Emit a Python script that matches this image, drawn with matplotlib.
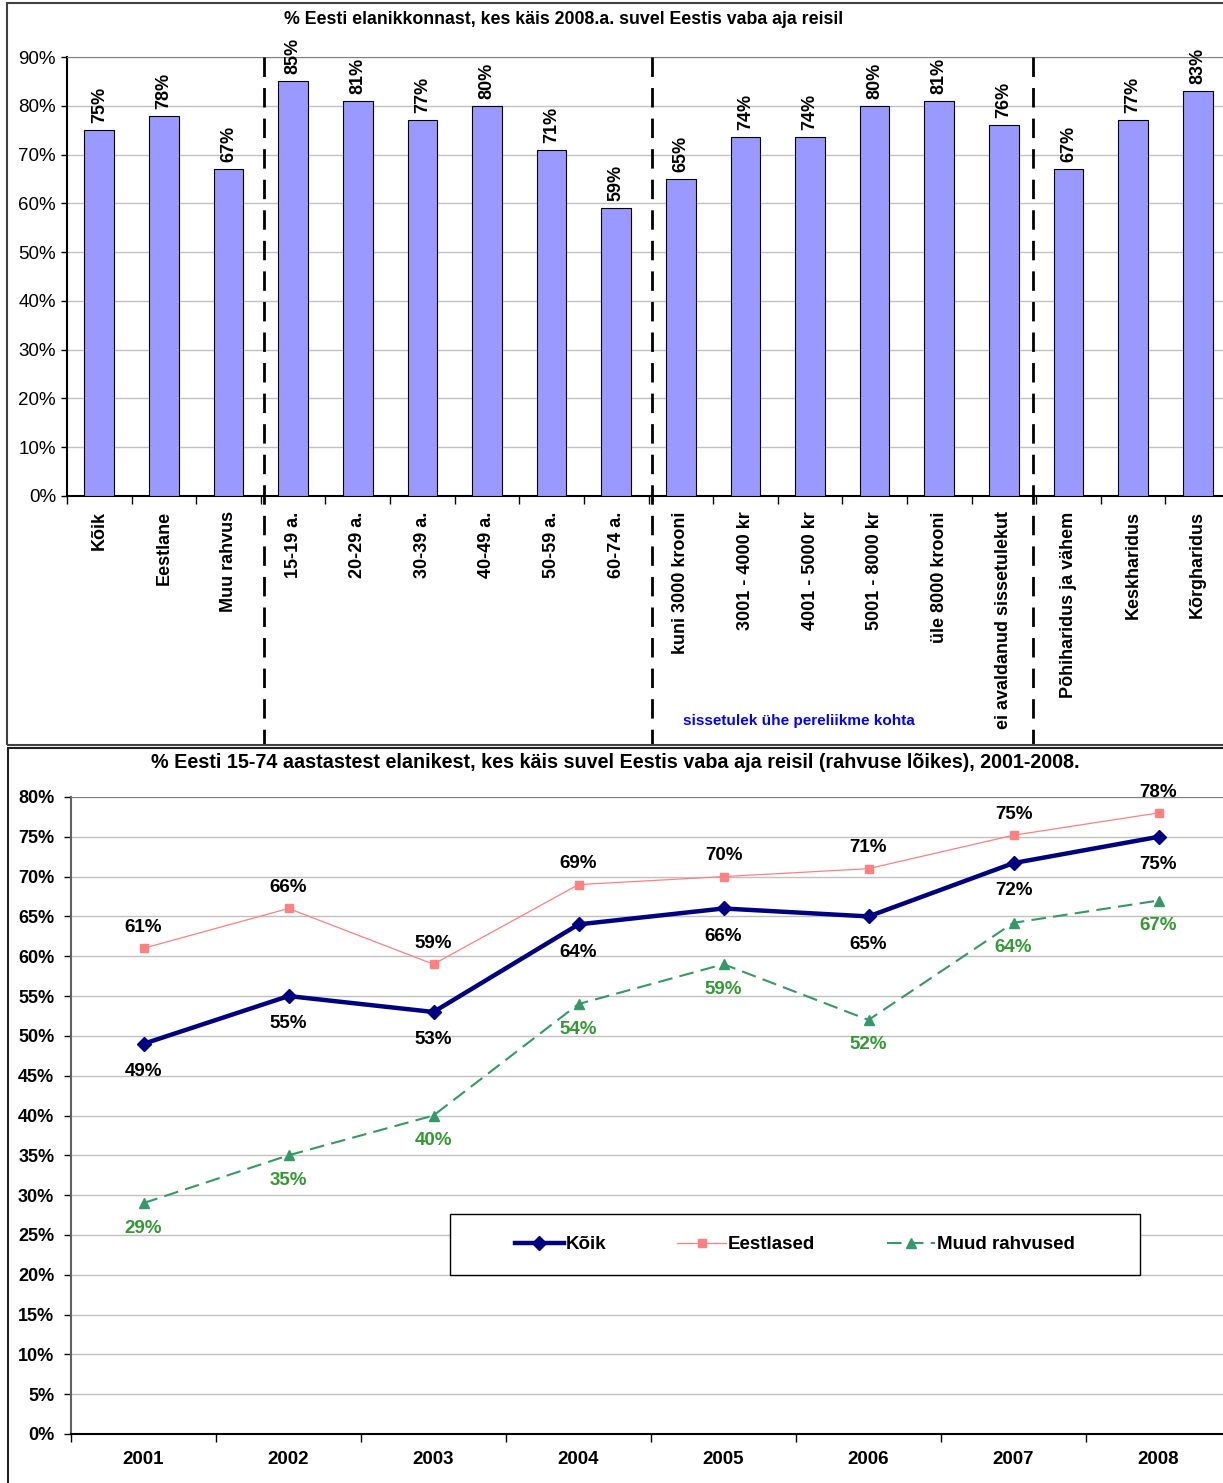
import matplotlib
matplotlib.use('Agg')
import matplotlib.pyplot as plt
import matplotlib.transforms as mtransforms
from matplotlib.patches import Rectangle
import numpy as np

plt.rcParams['font.family'] = ['Liberation Sans', 'DejaVu Sans']

# top chart data
cats = ['Kõik', 'Eestlane', 'Muu rahvus',
        '15-19 a.', '20-29 a.', '30-39 a.', '40-49 a.', '50-59 a.', '60-74 a.',
        'kuni 3000 krooni', '3001 - 4000 kr', '4001 - 5000 kr', '5001 - 8000 kr',
        'üle 8000 krooni', 'ei avaldanud sissetulekut',
        'Põhiharidus ja vähem', 'Keskharidus', 'Kõrgharidus']
vals = [75, 78, 67, 85, 81, 77, 80, 71, 59, 65, 73.6, 73.6, 80, 81, 76, 67, 77, 83]
separators = [2.55, 8.55, 14.45]
top_title = '% Eesti elanikkonnast, kes käis 2008.a. suvel Eestis vaba aja reisil'
income_note = 'sissetulek ühe pereliikme kohta'

# bottom chart data
years = ['2001', '2002', '2003', '2004', '2005', '2006', '2007', '2008']
koik = [49, 55, 53, 64, 66, 65, 71.7, 75]
eestlased = [61, 66, 59, 69, 70, 71, 75.2, 78]
muud = [29, 35, 40, 54, 59, 52, 64.2, 67]
bottom_title = ('% Eesti 15-74 aastastest elanikest, kes käis suvel Eestis vaba aja reisil '
                '(rahvuse lõikes), 2001-2008.')

W, H = 1223, 1483
fig = plt.figure(figsize=(W / 100, H / 100), dpi=100)

def fx(px):
    return px / W

def fy(py):
    return 1 - py / H

# panel frames
fig.patches.append(Rectangle((fx(7), fy(745)), fx(1230 - 7), fy(3) - fy(745),
                             transform=fig.transFigure, fill=False,
                             edgecolor='#404040', lw=1.5, zorder=0))
fig.patches.append(Rectangle((fx(8), fy(1490)), fx(1230 - 8), fy(748) - fy(1490),
                             transform=fig.transFigure, fill=False,
                             edgecolor='#202020', lw=1.5, zorder=0))

# ---------------- top chart ----------------
ax1 = fig.add_axes([fx(67), fy(496), fx(1230 - 67), fy(57) - fy(496)])
x = np.arange(len(cats))
ax1.bar(x, [v / 100 for v in vals], width=0.46, color='#9999FF',
        edgecolor='#000000', lw=0.8, zorder=3)
for xi, v in zip(x, vals):
    ax1.annotate('%d%%' % round(v), (xi, v / 100), xytext=(0, 5),
                 textcoords='offset points', rotation=90, ha='center',
                 va='bottom', fontsize=13, fontweight='bold', zorder=4)
ax1.set_xlim(-0.5, len(cats) - 0.5)
ax1.set_ylim(0, 0.9)
ax1.set_yticks(np.arange(0, 0.91, 0.1))
ax1.set_yticklabels(['%d%%' % t for t in range(0, 91, 10)], fontsize=13.5)
ax1.set_xticks(x)
ax1.set_xticklabels(cats, rotation=90, fontsize=13, fontweight='bold')
ax1.set_xticks(np.arange(-0.5, len(cats)), minor=True)
ax1.tick_params(axis='x', which='major', length=0, pad=11)
ax1.tick_params(axis='x', which='minor', length=6, width=1, direction='out')
ax1.tick_params(axis='y', length=4, width=1, pad=4)
ax1.grid(axis='y', color='#C0C0C0', lw=1, zorder=0)
ax1.set_axisbelow(True)
for s in ['top', 'right']:
    ax1.spines[s].set_color('#808080')
ax1.spines['left'].set_linewidth(1.5)
ax1.spines['bottom'].set_linewidth(1.5)

# dashed group separators
trans = mtransforms.blended_transform_factory(ax1.transData, ax1.transAxes)
ylow = (496 - 745) / (496 - 57)
for b in separators:
    ax1.plot([b, b], [1, ylow], transform=trans,
             color='black', lw=2, dashes=(7, 4), clip_on=False, zorder=5)

fig.text(fx(564), fy(20), top_title, ha='center', va='center',
         fontsize=12.8, fontweight='bold')
fig.text(fx(799), fy(721), income_note, ha='center', va='center',
         fontsize=11, fontweight='bold', color='#0000FF')

# ---------------- bottom chart ----------------
ax2 = fig.add_axes([fx(71), fy(1434), fx(1231 - 71), fy(797) - fy(1434)])
xi2 = np.arange(len(years))
l1, = ax2.plot(xi2, [v / 100 for v in koik], color='#000080', lw=3.2,
               marker='D', ms=7, zorder=5, label='Kõik')
l2, = ax2.plot(xi2, [v / 100 for v in eestlased], color='#FF8080', lw=0.9,
               marker='s', ms=6, zorder=4, label='Eestlased')
l3, = ax2.plot(xi2, [v / 100 for v in muud], color='#339966', lw=1.5,
               dashes=(7, 3.5), marker='^', ms=7, zorder=4, label='Muud rahvused')

for i in range(len(years)):
    ax2.annotate('%d%%' % round(eestlased[i]), (i, eestlased[i] / 100),
                 xytext=(0, 15), textcoords='offset points', ha='center',
                 va='center', fontsize=13.5, fontweight='bold')
    ax2.annotate('%d%%' % round(koik[i]), (i, koik[i] / 100),
                 xytext=(0, -20), textcoords='offset points', ha='center',
                 va='center', fontsize=13.5, fontweight='bold')
    ax2.annotate('%d%%' % round(muud[i]), (i, muud[i] / 100),
                 xytext=(0, -18), textcoords='offset points', ha='center',
                 va='center', fontsize=13.5, fontweight='bold', color='#339933')

ax2.set_xlim(-0.5, len(years) - 0.5)
ax2.set_ylim(0, 0.8)
ax2.set_yticks(np.arange(0, 0.801, 0.05))
ax2.set_yticklabels(['%d%%' % t for t in range(0, 81, 5)], fontsize=13,
                    fontweight='bold')
ax2.set_xticks(xi2)
ax2.set_xticklabels(years, fontsize=13.5, fontweight='bold')
ax2.set_xticks(np.arange(-0.5, len(years)), minor=True)
ax2.tick_params(axis='x', which='major', length=0, pad=12)
ax2.tick_params(axis='x', which='minor', length=6, width=1, direction='out')
ax2.tick_params(axis='y', length=5, width=1, pad=7)
ax2.grid(axis='y', color='#C0C0C0', lw=1, zorder=0)
ax2.set_axisbelow(True)
for s in ['top', 'right']:
    ax2.spines[s].set_color('#808080')
ax2.spines['left'].set_color('#606060')
ax2.spines['left'].set_linewidth(1.5)
ax2.spines['bottom'].set_linewidth(1.5)

# legend box
bx0 = (450 - 71) / 1160
bw = (1140 - 450) / 1160
by0 = (1434 - 1275) / 637
bh = (1275 - 1214) / 637
ax2.add_patch(Rectangle((bx0, by0), bw, bh, transform=ax2.transAxes,
                        facecolor='white', edgecolor='black', lw=1, zorder=6))
leg = ax2.legend(handles=[l1, l2, l3], loc='center',
                 bbox_to_anchor=(bx0 + bw / 2, by0 + bh / 2), ncol=3,
                 frameon=False, handlelength=2.6, handletextpad=0.1,
                 columnspacing=3.8, prop={'weight': 'bold', 'size': 13.5})
leg.set_zorder(7)

fig.text(fx(615), fy(763), bottom_title, ha='center', va='center',
         fontsize=14.2, fontweight='bold')

fig.savefig('out.png', dpi=100)
